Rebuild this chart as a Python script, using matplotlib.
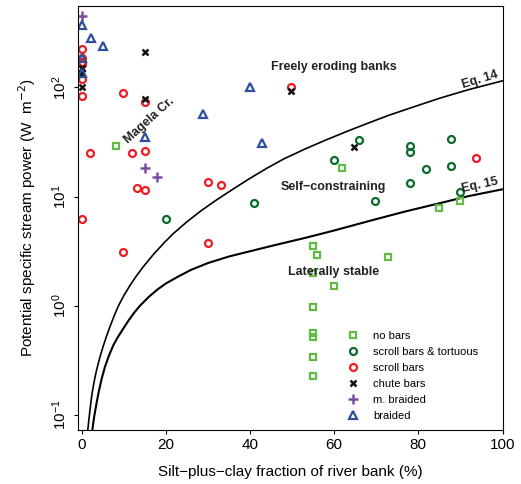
import numpy as np
import matplotlib.pyplot as plt
from matplotlib.ticker import NullLocator

plt.rcParams["font.family"] = ["Liberation Sans", "DejaVu Sans"]

# ------------------------------------------------------------
# data (x = silt+clay %, y = W m^-2)
# ------------------------------------------------------------
nobars_x = [8.1, 61.9, 89.8, 84.8, 55.0, 55.9, 72.7, 55.0, 59.9, 55.0, 55.0, 55.0, 55.0, 55.0]
nobars_y = [29.2, 18.4, 9.2, 7.9, 3.5, 2.9, 2.8, 2.0, 1.52, 0.97, 0.56, 0.52, 0.34, 0.23]

tort_x = [20.0, 40.9, 65.9, 59.9, 77.9, 77.9, 87.8, 81.9, 87.8, 77.9, 69.8, 89.8]
tort_y = [6.3, 8.7, 33.0, 21.6, 29.0, 25.8, 33.6, 17.9, 19.1, 13.4, 9.2, 11.1]

scroll_x = [0, 0, 0, 0, 0, 0, 0, 9.9, 15.0, 49.8, 2.0, 12.0, 15.0, 13.0, 15.0,
            29.9, 33.0, 9.9, 29.9, 93.7]
scroll_y = [223, 185, 172, 163, 119, 84, 6.3, 88, 74, 101, 24.9, 24.9, 26.2, 11.9, 11.5,
            13.7, 12.8, 3.1, 3.8, 22.7]

chute_x = [0, 0, 0, 15.0, 15.0, 49.8, 64.8]
chute_y = [151, 135, 100, 212, 78, 93, 28.7]

mbraid_x = [0, 15.0, 17.9]
mbraid_y = [454, 18.4, 15.2]

braid_x = [0, 2.1, 5.0, 0, 0, 15.0, 28.7, 39.9, 42.9]
braid_y = [373, 282, 239, 185, 136, 35.4, 56.8, 101, 30.8]

# Eq. 14 / Eq. 15 curves (log10 of y)
eq14_x = [1.42, 1.6, 1.8, 2.1, 2.4, 2.8, 3.2, 3.7, 4.3, 5.0, 5.8, 6.7, 7.7, 8.7,
          10.0, 11.5, 13.0, 14.6, 17.0, 19.5, 21.7, 25.0, 28.5, 32.0, 36.0, 40.0,
          44.0, 48.0, 53.0, 58.0, 63.0, 68.0, 73.0, 79.0, 85.0, 92.0, 100.0]
eq14_logy = [-1.136, -1.07, -1.00, -0.90, -0.81, -0.72, -0.64, -0.558, -0.47, -0.38,
             -0.285, -0.19, -0.09, 0.0, 0.095, 0.19, 0.275, 0.358, 0.47, 0.575, 0.66,
             0.77, 0.875, 0.969, 1.07, 1.168, 1.26, 1.345, 1.435, 1.518, 1.597, 1.672,
             1.745, 1.823, 1.90, 1.98, 2.06]

eq15_x = [2.5, 2.75, 3.0, 3.5, 4.0, 4.7, 5.5, 6.5, 7.5, 8.5, 9.5, 11.0, 12.5, 13.8,
          16.0, 18.0, 20.0, 23.0, 26.0, 30.0, 35.0, 40.0, 46.0, 53.4, 60.0, 69.2,
          77.0, 85.0, 92.0, 100.0]
eq15_logy = [-1.136, -1.065, -1.0, -0.89, -0.79, -0.67, -0.558, -0.45, -0.36, -0.29,
             -0.23, -0.14, -0.06, 0.0, 0.085, 0.15, 0.205, 0.27, 0.33, 0.392, 0.452,
             0.50, 0.557, 0.625, 0.69, 0.786, 0.865, 0.939, 1.005, 1.067]

# ------------------------------------------------------------
fig = plt.figure(figsize=(5.21, 4.84), dpi=100)
ax = fig.add_axes([0.149, 0.1116, 0.8155, 0.876])

ax.plot(eq14_x, 10 ** np.array(eq14_logy), "-k", lw=1.2)
ax.plot(eq15_x, 10 ** np.array(eq15_logy), "-k", lw=1.5)

ms = 5
ax.plot(nobars_x, nobars_y, "s", mfc="none", mec="#62bb46", mew=1.6, ms=ms, ls="none", label="no bars")
ax.plot(tort_x, tort_y, "o", mfc="none", mec="#0a6b2c", mew=1.6, ms=ms, ls="none", label="scroll bars & tortuous")
ax.plot(scroll_x, scroll_y, "o", mfc="none", mec="#ee1c25", mew=1.6, ms=ms, ls="none", label="scroll bars")
ax.plot(chute_x, chute_y, "x", color="#111111", mew=1.8, ms=ms, ls="none", label="chute bars")
ax.plot(mbraid_x, mbraid_y, "+", color="#7a4fa3", mew=1.8, ms=7, ls="none", label="m. braided")
ax.plot(braid_x, braid_y, "^", mfc="none", mec="#2e4fa0", mew=1.6, ms=6, ls="none", label="braided")

ax.set_yscale("log")
ax.set_xlim(-1, 100)
ax.set_ylim(0.073, 556)
ax.set_xticks([0, 20, 40, 60, 80, 100])
ax.set_yticks([0.1, 1, 10, 100])
ax.yaxis.set_minor_locator(NullLocator())
ax.tick_params(direction="out", length=3, labelsize=11, pad=3)
ax.tick_params(axis="y", labelrotation=90)
for lab in ax.get_yticklabels():
    lab.set_va("center")

ax.set_xlabel("Silt\u2212plus\u2212clay fraction of river bank (%)", fontsize=11, labelpad=9)
ax.set_ylabel("Potential specific stream power (W  m$^{-2}$)", fontsize=11, labelpad=9)

tkw = dict(fontsize=9, fontweight="bold", color="#222222", ha="center", va="center")
ax.text(59.9, 153, "Freely eroding banks", **tkw)
ax.text(59.9, 12.3, "Self\u2212constraining", **tkw)
ax.text(59.9, 2.05, "Laterally stable", **tkw)
ax.text(16.0, 50, "Magela Cr.", rotation=42, **tkw)
ax.text(94.7, 118, "Eq. 14", rotation=17, **tkw)
ax.text(94.7, 12.6, "Eq. 15", rotation=12, **tkw)

ax.legend(loc="upper left", bbox_to_anchor=(0.625, 0.245), frameon=False, fontsize=8,
          handlelength=1.0, handletextpad=1.3, labelspacing=0.55, borderaxespad=0)

fig.savefig("out.png", dpi=100)
